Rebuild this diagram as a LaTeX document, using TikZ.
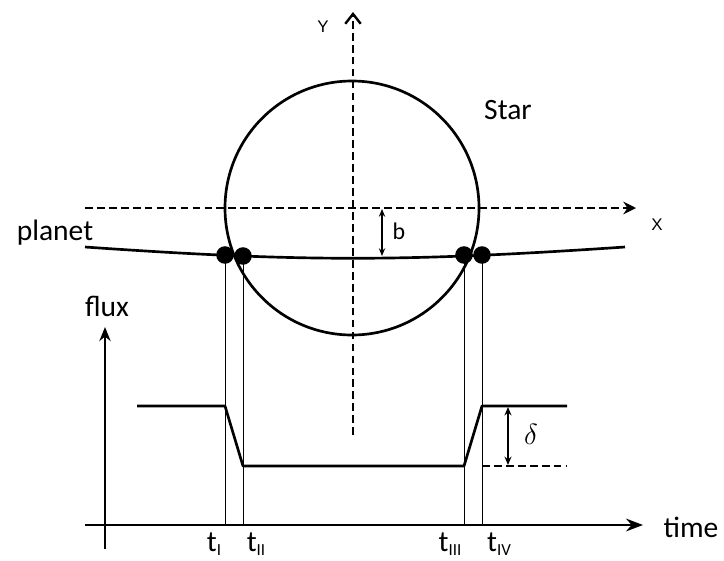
\documentclass[tikz,border=0pt]{standalone}
\usepackage{fontspec}
\setmainfont{Carlito}
\newfontfamily\axisfont{Liberation Sans}
\usetikzlibrary{arrows.meta}
\newcommand{\tlab}[1]{t\raisebox{-0.3ex}{\fontsize{12}{12}\selectfont #1}}

\begin{document}
\begin{tikzpicture}[x=0.025cm, y=-0.025cm, >=Stealth, line width=1.9pt,
    frame/.style={dashed, dash pattern=on 5.5pt off 3pt, line width=1.7pt},
    dot/.style={circle, fill, inner sep=0pt, minimum size=12.5pt},
    guide/.style={line width=0.55pt},
    lbl/.style={font=\fontsize{21}{21}\selectfont},
    tick/.style={lbl, inner sep=0pt, anchor=base}]
  \useasboundingbox (0,0) rectangle (724,560);

  % star and its frame
  \draw[frame, -{Straight Barb[length=7pt, width=11pt, line width=1.7pt]}] (353,435) -- (353,12);
  \draw[frame, -{Stealth[length=9pt, width=9pt]}] (85,208) -- (636,208);
  \draw (352,208) circle (127);
  \node[font=\axisfont\fontsize{12}{12}\selectfont] (ylab) at (323,27) {Y};
  \node[font=\axisfont\fontsize{12}{12}\selectfont] (xlab) at (657,225) {X};
  \node[lbl] (star) at (508,110) {Star};

  % planet path
  \coordinate (pl) at (85,247);
  \coordinate (pr) at (625,247);
  \draw (pl) .. controls (300,262) and (404,262) .. (pr);
  \node[lbl] (planet) at (55,233) {planet};
  \coordinate (bt) at (382,209);
  \coordinate (bb) at (382,256);
  \draw[<->, line width=1.1pt, >={Stealth[length=5.5pt, width=4.5pt]}] (bt) -- (bb);
  \node[font=\fontsize{17}{17}\selectfont] (b) at (399,231) {b};

  % light curve axes
  \coordinate (fo) at (105,549);
  \coordinate (ft) at (105,327);
  \coordinate (to) at (85,525);
  \coordinate (tt) at (643,525);
  \draw[->, >={Stealth[length=10pt, width=8pt]}] (fo) -- (ft);
  \draw[->, >={Stealth[length=12pt, width=9pt]}] (to) -- (tt);
  \node[lbl] (flux) at (107,306) {flux};
  \node[lbl] (time) at (691,527) {time};

  % contact points
  \coordinate (c1) at (225,255);
  \coordinate (c2) at (243,256);
  \coordinate (c3) at (464,255);
  \coordinate (c4) at (482,255);
  \foreach \c in {c1,c2,c3,c4}
    \draw[guide] (\c) -- (\c |- to);
  \foreach \c in {c1,c2,c3,c4}
    \node[dot] (dot\c) at (\c) {};

  % flux drop
  \coordinate (hi) at (137,406);
  \coordinate (lo) at (0,466);
  \coordinate (hend) at (567,406);
  \draw[line join=round] (hi) -- (c1 |- hi) -- (c2 |- lo) -- (c3 |- lo) -- (c4 |- hi) -- (hend);
  \draw[frame, line width=1.4pt] (c4 |- lo) -- (hend |- lo);
  \draw[<->, line width=1.1pt, >={Stealth[length=6pt, width=5pt]}] (508,407) -- (508,465);
  \node[font=\fontsize{20}{20}\selectfont] (delta) at (531,434) {$\delta$};

  % contact times
  \node[tick] (t1) at (214,551) {\tlab{I}};
  \node[tick] (t2) at (256,551) {\tlab{II}};
  \node[tick] (t3) at (450,551) {\tlab{III}};
  \node[tick] (t4) at (499,551) {\tlab{IV}};
\end{tikzpicture}
\end{document}
